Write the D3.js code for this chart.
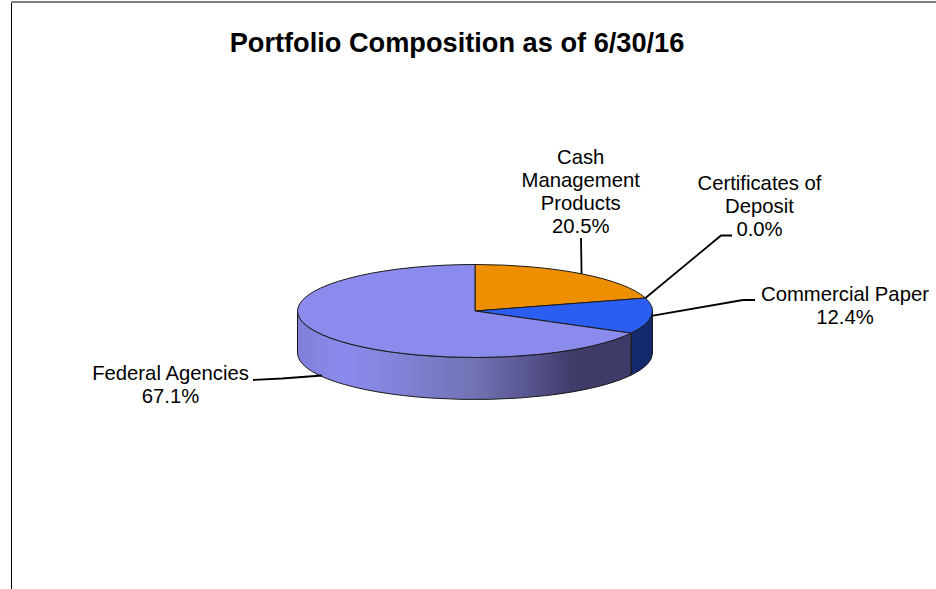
<!DOCTYPE html>
<html>
<head>
<meta charset="utf-8">
<script src="https://cdn.jsdelivr.net/npm/d3@7"></script>
<style>
    html, body { margin: 0; padding: 0; background: #fff; overflow: hidden; }
    text { font-family: "Liberation Sans", Arial, sans-serif; fill: #000; }
</style>
</head>
<body>
<div id="chart"></div>
<script>
// chart values, clockwise from 12 o'clock
const categories = ['Cash Management Products', 'Certificates of Deposit', 'Commercial Paper', 'Federal Agencies'];
const shares = [20.5, 0.0, 12.4, 67.1];
const sliceColors = ['#ee8f00', '#7a7a7a', '#2b5df0', '#8b8bee'];
const labelLines = [['Cash', 'Management', 'Products', '20.5%'], ['Certificates of', 'Deposit', '0.0%'], ['Commercial Paper', '12.4%'], ['Federal Agencies', '67.1%']];
const chartTitle = 'Portfolio Composition as of 6/30/16';

const width = 936;
const height = 589;

const svg = d3.select('#chart')
    .append('svg')
    .attr('width', width)
    .attr('height', height)
    .style('display', 'block');

// pie "3d" geometry - ellipse on top, wall below it
const cx = 475, cy = 311, rx = 177.5, ry = 46.5, depth = 42;

function px(a) { return cx + rx * Math.sin(a); }
function py(a) { return cy - ry * Math.cos(a); }

const arcs = d3.pie().sort(null).value(function(d) { return d; })(shares);

// sweep flag is 1 because angles go clockwise on screen
function rimPath(a0, a1, dy) {
    const large = a1 - a0 > Math.PI ? 1 : 0;
    return `M${px(a0)},${py(a0) + dy}A${rx},${ry} 0 ${large} 1 ${px(a1)},${py(a1) + dy}`;
}

function slicePath(a0, a1) {
    return `M${cx},${cy}L${px(a0)},${py(a0)}` + rimPath(a0, a1, 0).replace(/^M[^A]+/, '') + 'Z';
}

function wallPath(a0, a1) {
    const start = Math.max(a0, Math.PI / 2);
    const end = Math.min(a1, Math.PI * 1.5);
    const back = `A${rx},${ry} 0 0 0 ${px(start)},${py(start) + depth}`;
    return `M${px(start)},${py(start)}` + rimPath(start, end, 0).replace(/^M[^A]+/, '') +
        `L${px(end)},${py(end) + depth}` + back + 'Z';
}

const defs = svg.append('defs');
const wallGradient = defs.append('linearGradient')
    .attr('id', 'wall-fade')
    .attr('gradientUnits', 'userSpaceOnUse')
    .attr('x1', cx - rx).attr('x2', cx + rx)
    .attr('y1', 0).attr('y2', 0);
[[0, '#7f7fd9'], [0.13, '#8b8bee'], [0.25, '#8484de'], [0.5, '#7272b4'], [0.65, '#585690'], [0.77, '#403c6a'], [1, '#3d3a66']]
    .forEach(function(s) {
        wallGradient.append('stop').attr('offset', s[0]).attr('stop-color', s[1]);
    });

// chart frame, only the top and left edges are in the picture
svg.append('path')
    .attr('d', `M${width},2H11`)
    .attr('fill', 'none')
    .attr('stroke', '#808080')
    .attr('stroke-width', 2);
svg.append('path')
    .attr('d', `M11.5,3V${height}`)
    .attr('fill', 'none')
    .attr('stroke', '#000')
    .attr('stroke-width', 1);

svg.append('text')
    .attr('x', 457)
    .attr('y', 52)
    .attr('text-anchor', 'middle')
    .attr('font-size', 27.2)
    .attr('font-weight', 'bold')
    .text(chartTitle);

const gPie = svg.append('g').attr('class', 'pie');

// walls of the front facing slices
gPie.selectAll('path.wall')
    .data(arcs.filter(function(d) { return d.endAngle > Math.PI / 2 && d.value > 0; }))
    .join('path')
    .attr('class', 'wall')
    .attr('d', function(d) { return wallPath(d.startAngle, d.endAngle); })
    .attr('fill', function(d) { return d.index === 3 ? 'url(#wall-fade)' : '#14296b'; })
    .attr('stroke', '#1a1a1a')
    .attr('stroke-width', 1)
    .attr('stroke-linejoin', 'round');

gPie.selectAll('path.slice')
    .data(arcs.filter(function(d) { return d.value > 0; }))
    .join('path')
    .attr('class', 'slice')
    .attr('d', function(d) { return slicePath(d.startAngle, d.endAngle); })
    .attr('fill', function(d) { return sliceColors[d.index]; })
    .attr('stroke', '#1a1a1a')
    .attr('stroke-width', 1)
    .attr('stroke-linejoin', 'round');

// leader lines, from the pie out to the label
const leaderEnds = [
    [[581, 238]],
    [[721, 235.5], [732, 235.5]],
    [[743, 300], [755, 300]],
    [[282, 378.5], [253, 380]]
];

const leaders = svg.append('g').attr('class', 'leaders');
arcs.forEach(function(d, i) {
    const mid = (d.startAngle + d.endAngle) / 2;
    const start = i === 3 ? [322, 375.5] : [px(mid), py(mid)]; // federal agencies leader lands on the wall
    leaders.append('path')
        .attr('d', d3.line()([start].concat(leaderEnds[i])))
        .attr('fill', 'none')
        .attr('stroke', '#000')
        .attr('stroke-width', 1.8);
});

// label blocks
const labelPos = [[580.7, 163.5], [759.5, 190], [845, 301], [170.5, 380]];
const labelFont = 20.3, lineGap = 23;

const labels = svg.append('g').attr('class', 'labels');
labelLines.forEach(function(lines, i) {
    labels.append('text')
        .attr('text-anchor', 'middle')
        .attr('font-size', labelFont)
        .selectAll('tspan')
        .data(lines)
        .join('tspan')
        .attr('x', labelPos[i][0])
        .attr('y', function(d, j) { return labelPos[i][1] + j * lineGap; })
        .text(function(d) { return d; });
});
</script>
</body>
</html>
